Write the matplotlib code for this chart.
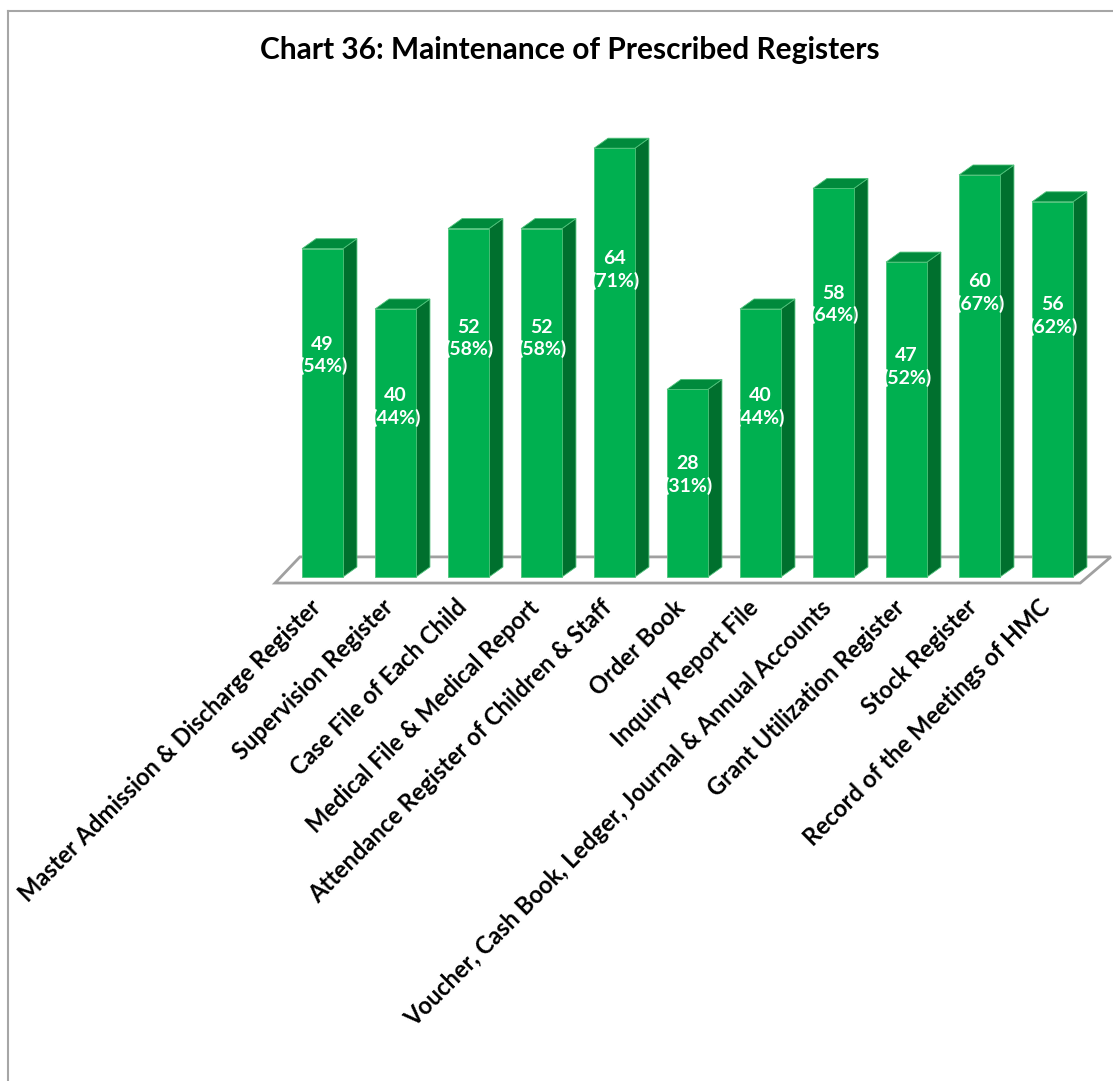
import matplotlib
import matplotlib.pyplot as plt
from matplotlib.patches import Polygon, Rectangle
from matplotlib.lines import Line2D

plt.rcParams['font.family'] = ['Lato', 'DejaVu Sans']

# Data
categories = ['Master Admission & Discharge Register', 'Supervision Register',
              'Case File of Each Child', 'Medical File & Medical Report',
              'Attendance Register of Children & Staff', 'Order Book',
              'Inquiry Report File', 'Voucher, Cash Book, Ledger, Journal & Annual Accounts',
              'Grant Utilization Register', 'Stock Register', 'Record of the Meetings of HMC']
counts = [49, 40, 52, 52, 64, 28, 40, 58, 47, 60, 56]
percents = [54, 44, 58, 58, 71, 31, 44, 64, 52, 67, 62]

W, H = 1113, 1081
fig = plt.figure(figsize=(W / 100, H / 100), dpi=100)

# figure border (top and left only)
fig.add_artist(Line2D([8 / W, 1], [1 - 10.5 / H, 1 - 10.5 / H], transform=fig.transFigure,
                      color='#a6a6a6', lw=1.5))
fig.add_artist(Line2D([8 / W, 8 / W], [0, 1 - 10.5 / H], transform=fig.transFigure,
                      color='#a6a6a6', lw=1.5))

# axes placed so that one category = 73 px and one unit = 6.7 px
px_unit = 73.0
py_unit = 6.7
x0, x1 = -0.75, 10.8
y0, y1 = -1.5, 70
left_px = 322.5 + x0 * px_unit
right_px = 322.5 + x1 * px_unit
bot_px = 577 - y0 * py_unit
top_px = 577 - y1 * py_unit
ax = fig.add_axes([left_px / W, (H - bot_px) / H, (right_px - left_px) / W, (bot_px - top_px) / H])
ax.set_xlim(x0, x1)
ax.set_ylim(y0, y1)
ax.axis('off')

bw = 0.56
dx = 14 / px_unit
dy = 10 / py_unit
front_c = '#00b050'
side_c = '#00702e'
top_c = '#008a3c'
edge_c = '#4fc27a'

# floor
floor = Polygon([(-0.65, -0.9), (10.38, -0.9), (10.8, 3.0), (-0.31, 3.0)], closed=True,
                facecolor='white', edgecolor='#a0a0a0', lw=2, clip_on=False, zorder=1)
ax.add_patch(floor)

for i, (v, p) in enumerate(zip(counts, percents)):
    xl = i - bw / 2
    xr = i + bw / 2
    ax.add_patch(Polygon([(xr, 0), (xr + dx, dy), (xr + dx, v + dy), (xr, v)], closed=True,
                         facecolor=side_c, edgecolor=edge_c, lw=0.6, zorder=2, clip_on=False))
    ax.add_patch(Polygon([(xl, v), (xr, v), (xr + dx, v + dy), (xl + dx, v + dy)], closed=True,
                         facecolor=top_c, edgecolor=edge_c, lw=0.6, zorder=2, clip_on=False))
    ax.add_patch(Rectangle((xl, 0), bw, v, facecolor=front_c, edgecolor=edge_c, lw=0.6,
                           zorder=3, clip_on=False))
    ax.text(i, 0.85 * v - 8.6, '%d\n(%d%%)' % (v, p), color='white', fontsize=14,
            fontweight='bold', ha='center', va='center', linespacing=1.3, zorder=4)

# category labels
for i, c in enumerate(categories):
    ax.text(i - 0.08, -4.0, c, rotation=45, rotation_mode='anchor', ha='right', va='center',
            fontsize=17, fontweight='bold', color='black', clip_on=False)

fig.text(570 / W, 1 - 50 / H, 'Chart 36: Maintenance of Prescribed Registers',
         ha='center', va='center', fontsize=21.5, fontweight='bold')

fig.savefig('out.png', dpi=100)
